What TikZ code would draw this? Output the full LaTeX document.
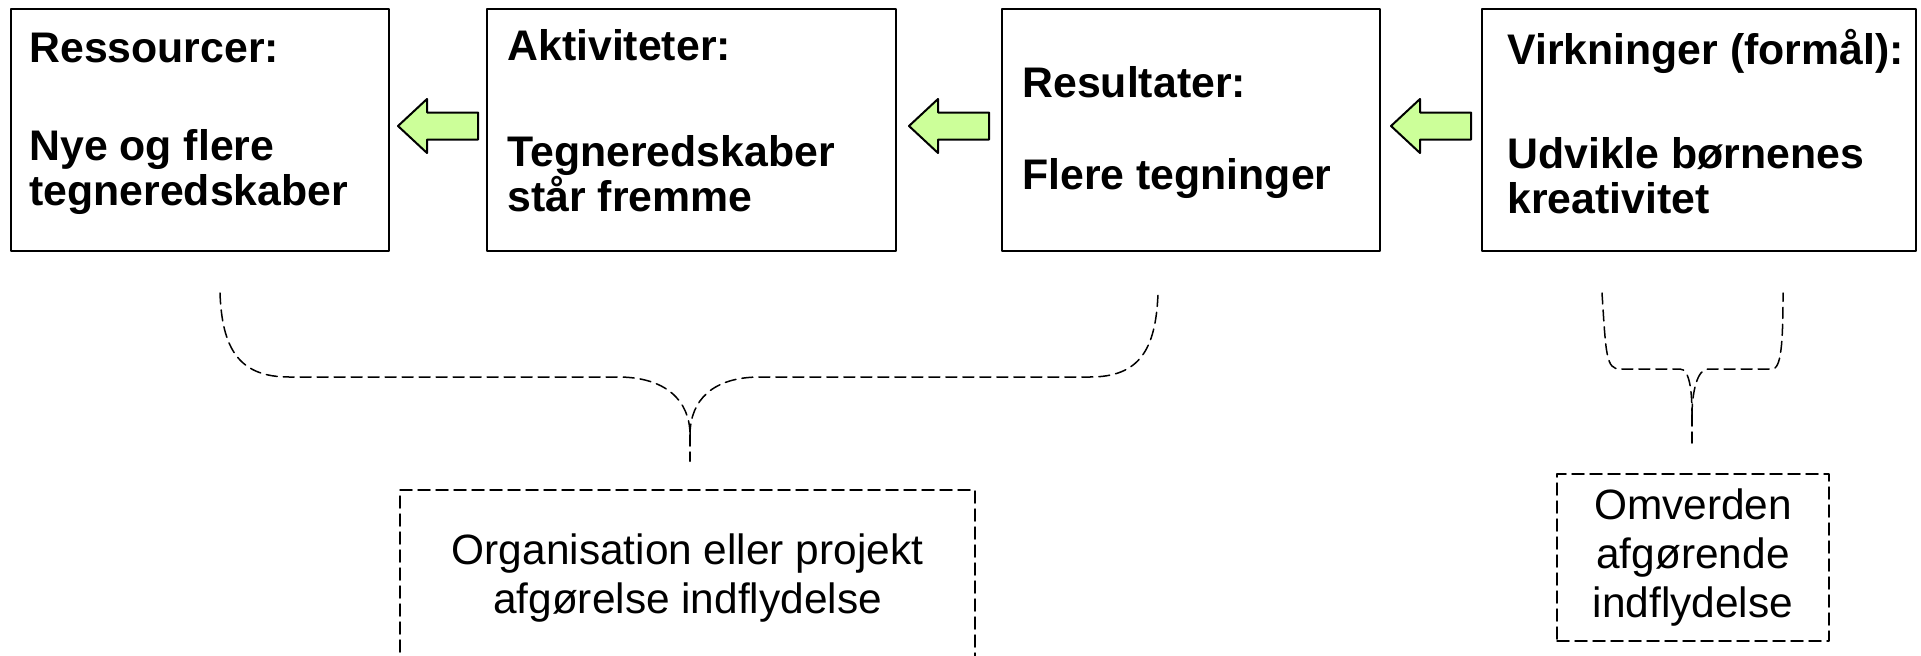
\documentclass[tikz,border=0pt]{standalone}
\usepackage{fontspec}
\setmainfont{Liberation Sans}
\usetikzlibrary{calc}
\definecolor{pilgroen}{HTML}{CCFF99}

\begin{document}
\begin{tikzpicture}[x=0.5pt, y=0.5pt, line join=round, line cap=round,
    kasse/.style={draw, line width=1pt, minimum height=121pt, inner sep=0pt},
    fed/.style={inner sep=0pt, anchor=base west, align=left, font=\fontsize{21.4pt}{22.5pt}\selectfont\bfseries},
    stiplet/.style={draw, line width=0.75pt, dash pattern=on 6pt off 3pt, inner sep=0pt, align=center, font=\fontsize{21.2pt}{24.5pt}\selectfont},
    klamme/.style={line width=0.75pt, dash pattern=on 5.5pt off 3pt},
    pil/.pic={\draw[line width=1pt, fill=pilgroen] (-40,0) -- (-11,27) -- (-11,13.5) -- (40,13.5) -- (40,-13.5) -- (-11,-13.5) -- (-11,-27) -- cycle;}]
  \useasboundingbox (0,0) rectangle (1921,655);
  \clip (0,0) rectangle (1921,655);
  %\draw[gray!40] (0,0) grid[step=50] (1921,655);
  \node[kasse, minimum width=189pt] (res) at (200,525) {};
  \node[kasse, minimum width=204.5pt] (akt) at (691.5,525) {};
  \node[kasse, minimum width=189pt] (resul) at (1191,525) {};
  \node[kasse, minimum width=217pt] (virk) at (1699,525) {};
  \node[fed] (res-o) at (29,592) {Ressourcer:};
  \node[fed] (res-b) at (29,450) {Nye og flere\\tegneredskaber};
  \node[fed] (akt-o) at (507,594) {Aktiviteter:};
  \node[fed] (akt-b) at (507,444) {Tegneredskaber\\står fremme};
  \node[fed] (resul-o) at (1022,558) {Resultater:};
  \node[fed] (resul-b) at (1022,466) {Flere tegninger};
  \node[fed] (virk-o) at (1507,590) {Virkninger (formål):};
  \node[fed] (virk-b) at (1507,442) {Udvikle børnenes\\kreativitet};
  \pic at ($(res.east)!0.5!(akt.west)+(0,4)$) {pil};
  \pic at ($(akt.east)!0.5!(resul.west)+(0,4)$) {pil};
  \pic at ($(resul.east)!0.5!(virk.west)+(0,4)$) {pil};
  \node[stiplet, minimum width=287.5pt, minimum height=88pt] (org) at (687.5,77) {Organisation eller projekt\\afgørelse indflydelse};
  \node[stiplet, minimum width=136pt, minimum height=83.5pt] (omv) at (1693,97.5) {Omverden\\afgørende\\indflydelse};
  \draw[klamme] (220,362) .. controls (222,305) and (240,278) .. (289,278) -- (618,278)
    .. controls (665,278) and (690,255) .. (690,220);
  \draw[klamme] (690,220) .. controls (690,255) and (713,278) .. (760,278) -- (1090,278)
    .. controls (1139,278) and (1156,305) .. (1158,362);
  \draw[klamme] (690,220) -- ($(org.north)+(2.5,28)$);
  \draw[klamme] (1602,362) .. controls (1606,300) and (1606,286) .. (1620,286) -- (1680,286)
    .. controls (1690,286) and (1692,262) .. (1692,240);
  \draw[klamme] (1692,240) .. controls (1692,262) and (1697,286) .. (1708,286) -- (1772,286)
    .. controls (1781,286) and (1783,310) .. (1783,362);
  \draw[klamme] (1692,240) -- ($(omv.north)+(-1,28)$);
\end{tikzpicture}
\end{document}
